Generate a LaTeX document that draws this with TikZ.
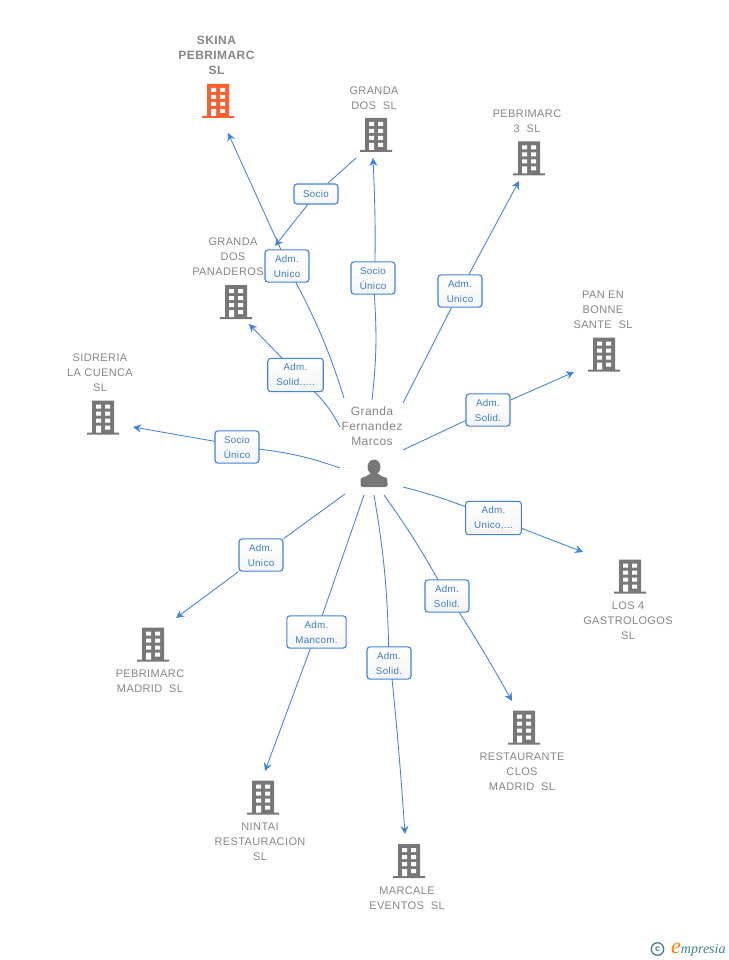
\documentclass[tikz,border=0pt]{standalone}
\usepackage{fontspec}
\setmainfont{Liberation Sans}
\newfontfamily\nNameFont[LetterSpace=3.5]{Liberation Sans}
\newfontfamily\nTagFont[LetterSpace=3.5]{Liberation Sans}
\newfontfamily\nLogoFont{Liberation Serif}
\usetikzlibrary{arrows.meta,backgrounds}
\definecolor{cLink}{HTML}{3F82E0}
\definecolor{cTag}{HTML}{3A7BD5}
\definecolor{cText}{HTML}{858585}
\definecolor{cIcon}{HTML}{777777}
\definecolor{cMain}{HTML}{FF5F2E}
\definecolor{cLogo}{HTML}{3F7F96}
\tikzset{
    firm/.style = { shape=rectangle, align=center, inner sep=0pt, text=cText, font=\nNameFont\fontsize{11}{15}\selectfont },
    tag/.style = { shape=rectangle, rounded corners=3pt, draw=cLink, line width=1.1pt, top color=white, bottom color=black!4, text=cTag, align=center, inner xsep=8.5pt, inner ysep=5pt, minimum width=44pt, minimum height=20pt, font=\nTagFont\fontsize{9.8}{15}\selectfont },
    link/.style = { -{Stealth[length=8pt,width=8pt]}, draw=cLink, line width=0.85pt },
    building/.pic = {
        \fill [#1] (-11,-17) rectangle (11,15) (-16,15) rectangle (16,17);
        \foreach \row in {-13,-6,1} {
            \fill [white] (-7,\row) rectangle (-2,\row+4) (2,\row) rectangle (7,\row+4);
        }
        \fill [white] (-7,8) rectangle (-2,15) (2,8) rectangle (7,12);
    }
}
\begin{document}
\begin{tikzpicture}[x=1pt, y=-1pt]
    \useasboundingbox (0,0) rectangle (728,960);
    \node (nSkina) [ firm, font=\nNameFont\bfseries\fontsize{12}{15}\selectfont ] at (216.5,55.5) {SKINA\\PEBRIMARC\\SL};
    \node (nGrandaDos) [ firm ] at (374,98) {GRANDA\\DOS\ \ SL};
    \node (nPebrimarcTres) [ firm ] at (527,121) {PEBRIMARC\\3\ \ SL};
    \node (nPan) [ firm ] at (603,309.5) {PAN EN\\BONNE\\SANTE\ \ SL};
    \node (nPanaderos) [ firm ] at (233,256.5) {GRANDA\\DOS\\\hspace*{-10pt}PANADEROS};
    \node (nSidreria) [ firm ] at (100,372.5) {SIDRERIA\\LA CUENCA\\SL};
    \node (nLosCuatro) [ firm ] at (628,620.5) {LOS 4\\GASTROLOGOS\\SL};
    \node (nMadrid) [ firm ] at (150,681) {PEBRIMARC\\MADRID\ \ SL};
    \node (nClos) [ firm ] at (522,771.5) {RESTAURANTE\\CLOS\\MADRID\ \ SL};
    \node (nNintai) [ firm ] at (260,841.5) {NINTAI\\RESTAURACION\\SL};
    \node (nMarcale) [ firm ] at (407,898) {MARCALE\\EVENTOS\ \ SL};
    \node (nHub) [ firm, font=\nNameFont\fontsize{12}{15}\selectfont ] at (372,426) {Granda\\Fernandez\\Marcos};

    \pic at (218,101) {building=cMain};
    \pic at (376,135) {building=cIcon};
    \pic at (529,158.5) {building=cIcon};
    \pic at (604,354.5) {building=cIcon};
    \pic at (236,302) {building=cIcon};
    \pic at (103,417.5) {building=cIcon};
    \pic at (630,576.5) {building=cIcon};
    \pic at (153,644.5) {building=cIcon};
    \pic at (524,727.5) {building=cIcon};
    \pic at (263,797.5) {building=cIcon};
    \pic at (409,861) {building=cIcon};

    \fill [cIcon] (374,467) ellipse (6.5pt and 7.5pt);
    \fill [cIcon, rounded corners=2pt] (360.5,487) -- (360.5,481) .. controls (361,477) and (367,477) .. (369.5,473) -- (378.5,473) .. controls (381,477) and (387,477) .. (387.5,481) -- (387.5,487) -- cycle;

    \node (tSkina) [ tag ] at (287,266) {Adm.\\Unico};
    \node (tSocio) [ tag ] at (316,194) {Socio};
    \node (tGrandaDos) [ tag ] at (373,278) {Socio\\Único};
    \node (tPebrimarcTres) [ tag ] at (460,291) {Adm.\\Unico};
    \node (tPan) [ tag ] at (488,410) {Adm.\\Solid.};
    \node (tPanaderos) [ tag ] at (295.5,375) {Adm.\\Solid.,...};
    \node (tSidreria) [ tag ] at (237,447) {Socio\\Único};
    \node (tLosCuatro) [ tag ] at (493.5,518) {Adm.\\Unico,...};
    \node (tMadrid) [ tag ] at (261,555) {Adm.\\Unico};
    \node (tNintai) [ tag ] at (316.5,632) {Adm.\\Mancom.};
    \node (tMarcale) [ tag ] at (389,663) {Adm.\\Solid.};
    \node (tClos) [ tag ] at (447,596) {Adm.\\Solid.};

    \coordinate (aSkina) at (344,398);
    \coordinate (bSkina) at (228,133);
    \coordinate (aSocio) at (356,158);
    \coordinate (bSocio) at (275,246);
    \coordinate (aGrandaDos) at (372,400);
    \coordinate (bGrandaDos) at (373,158);
    \coordinate (aPebrimarcTres) at (403,403);
    \coordinate (bPebrimarcTres) at (519,181);
    \coordinate (aPan) at (403,450);
    \coordinate (bPan) at (574,372);
    \coordinate (aPanaderos) at (340,427);
    \coordinate (bPanaderos) at (249,324);
    \coordinate (aSidreria) at (340,468);
    \coordinate (bSidreria) at (133,427);
    \coordinate (aLosCuatro) at (403,487);
    \coordinate (bLosCuatro) at (583,552);
    \coordinate (aMadrid) at (345,494);
    \coordinate (bMadrid) at (176,618);
    \coordinate (aNintai) at (364,495);
    \coordinate (bNintai) at (265,771);
    \coordinate (aMarcale) at (374,495);
    \coordinate (bMarcale) at (405,834);
    \coordinate (aClos) at (384,495);
    \coordinate (bClos) at (512,701);

    \begin{scope}[on background layer]
        \draw [link] (aSkina) to [bend right=5] (tSkina) -- (bSkina);
        \draw [link] (aSocio) -- (tSocio) -- (bSocio);
        \draw [link] (aGrandaDos) to [bend right=5] (tGrandaDos) to [bend right=2] (bGrandaDos);
        \draw [link] (aPebrimarcTres) -- (tPebrimarcTres) -- (bPebrimarcTres);
        \draw [link] (aPan) -- (tPan) -- (bPan);
        \draw [link] (aPanaderos) to [bend right=8] (tPanaderos) -- (bPanaderos);
        \draw [link] (aSidreria) to [bend right=6] (tSidreria) -- (bSidreria);
        \draw [link] (aLosCuatro) to [bend left=3] (tLosCuatro) -- (bLosCuatro);
        \draw [link] (aMadrid) -- (tMadrid) -- (bMadrid);
        \draw [link] (aNintai) -- (tNintai) -- (bNintai);
        \draw [link] (aMarcale) to [bend left=4] (tMarcale) to [bend left=1] (bMarcale);
        \draw [link] (aClos) to [bend left=3] (tClos) to [bend left=2] (bClos);
    \end{scope}

    \node (nCopy) [ circle, draw=cLogo, line width=1.3pt, inner sep=0pt, minimum size=12.5pt, text=cLogo, font=\bfseries\fontsize{9}{9}\selectfont ] at (657.5,949) {c};
    \node (nLogo) [ anchor=west, inner sep=0pt, text=cLogo, font=\nLogoFont\itshape\fontsize{14}{15}\selectfont ] at (671,949.5) {{\color{orange}\fontsize{22}{22}\selectfont e}mpresia};
\end{tikzpicture}
\end{document}
